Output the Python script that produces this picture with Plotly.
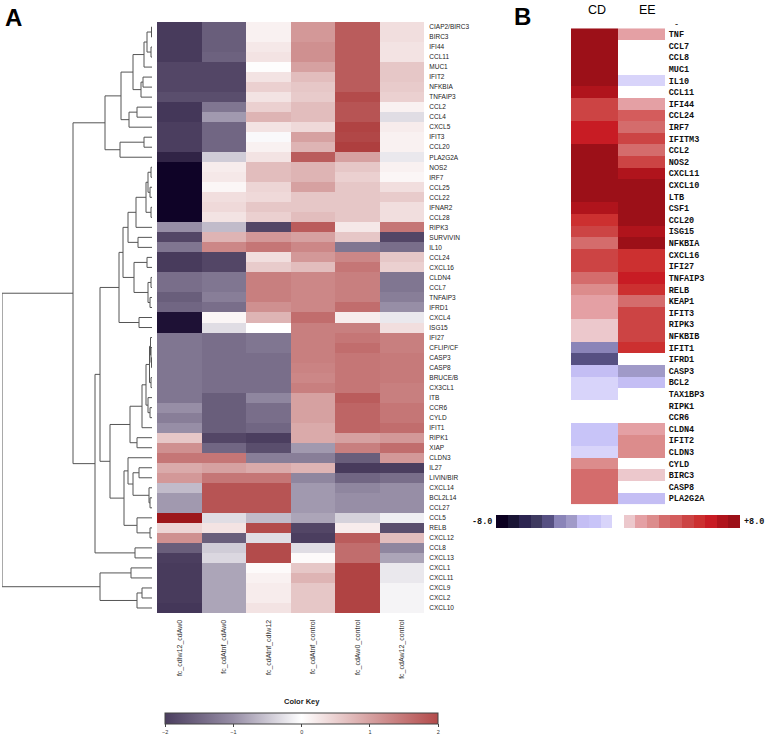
import plotly.graph_objects as go

W, H = 765, 739
def fx(px): return px / W
def fy(py): return 1 - py / H

# ---------------- Panel A data ----------------
a_rows = ["CIAP2/BIRC3", "BIRC3", "IFI44", "CCL11", "MUC1", "IFIT2", "NFKBIA", "TNFAIP3",
          "CCL2", "CCL4", "CXCL5", "IFIT3", "CCL20", "PLA2G2A", "NOS2", "IRF7", "CCL25",
          "CCL22", "IFNAR2", "CCL28", "RIPK3", "SURVIVIN", "IL10", "CCL24", "CXCL16",
          "CLDN4", "CCL7", "TNFAIP3", "IFRD1", "CXCL4", "ISG15", "IFI27", "CFLIP/CF",
          "CASP3", "CASP8", "BRUCE/B", "CX3CL1", "ITB", "CCR6", "CYLD", "IFIT1", "RIPK1",
          "XIAP", "CLDN3", "IL27", "LIVIN/BIR", "CXCL14", "BCL2L14", "CCL27", "CCL5",
          "RELB", "CXCL12", "CCL8", "CXCL13", "CXCL1", "CXCL11", "CXCL9", "CXCL2", "CXCL10"]
a_cols = ["fc_cdIw12_cdAw0", "fc_cdAtnf_cdAw0", "fc_cdAtnf_cdIw12",
          "fc_cdAtnf_control", "fc_cdAw0_control", "fc_cdAw12_control"]

fc_cdIw12_cdAw0 = [-2.1, -2.1, -2.1, -2.1, -1.9, -1.9, -1.9, -1.8, -2.2, -2.2, -2.0, -2.0, -2.0,
                   -2.8, -3.9, -3.9, -3.9, -3.9, -3.9, -3.9, -1.0, -1.9, -1.3, -2.1, -2.1,
                   -1.4, -1.4, -1.6, -1.5, -3.4, -3.4, -1.3, -1.3, -1.3, -1.3, -1.3, -1.3,
                   -1.3, -1.0, -1.2, -1.0, 0.6, 1.2, 1.5, 0.9, 1.1, -0.6, -0.9, -0.9,
                   3.5, 0.45, 1.2, -1.6, -2.0, -2.1, -2.1, -2.1, -2.1, -2.2]
fc_cdAtnf_cdAw0 = [-1.6, -1.6, -1.6, -1.55, -1.9, -1.9, -1.9, -1.8, -1.3, -0.9, -1.5, -1.5, -1.5,
                   -0.45, 0.2, 0.25, 0.1, 0.35, 0.4, 0.3, -0.6, 0.8, 1.3, -1.9, -1.9,
                   -1.3, -1.3, -1.2, -1.4, 0.1, -0.3, -1.4, -1.4, -1.4, -1.4, -1.4, -1.4,
                   -1.6, -1.6, -1.6, -1.6, -1.9, -1.5, 1.5, 1.0, 1.5, 1.9, 1.9, 1.9,
                   -0.3, 0.3, -1.6, -0.45, -0.35, -0.8, -0.8, -0.8, -0.8, -0.8]
fc_cdAtnf_cdIw12 = [0.15, 0.15, 0.25, 0.3, 0.02, 0.3, 0.5, 0.3, 0.5, 0.8, 0.3, -0.05, 0.15,
                    0.3, 0.7, 0.7, 0.45, 0.4, 0.6, 0.5, -1.9, 1.1, 1.5, 0.35, 0.55,
                    1.4, 1.4, 1.4, 1.2, 0.8, 0.0, -1.3, -1.3, -1.4, -1.4, -1.4, -1.4,
                    -1.1, -1.4, -1.4, -1.5, -2.0, -1.8, -1.2, 0.9, 1.5, 1.9, 1.9, 1.9,
                    -0.6, 2.0, -0.3, 2.0, 2.0, 0.05, 0.15, 0.2, 0.2, 0.3]
fc_cdAtnf_control = [1.1, 1.1, 1.2, 1.2, 1.0, 0.7, 0.6, 0.55, 0.7, 0.7, 0.4, 1.0, 0.8,
                     1.8, 0.8, 0.8, 1.0, 0.6, 0.6, 0.7, 1.8, 1.0, 1.3, 1.1, 0.7,
                     1.3, 1.3, 1.3, 1.3, 1.6, 1.4, 1.4, 1.4, 1.4, 1.35, 1.3, 1.4,
                     1.0, 1.0, 1.0, 0.9, 0.9, -0.9, -1.2, 0.8, -1.1, -0.9, -0.9, -0.9,
                     -0.8, -1.9, -2.0, -0.3, 0.05, 0.6, 0.8, 0.6, 0.6, 0.6]
fc_cdAw0_control = [1.8, 1.8, 1.8, 1.8, 1.8, 1.8, 1.8, 2.0, 1.9, 1.9, 2.2, 2.1, 2.3,
                    1.0, 0.6, 0.5, 0.6, 0.6, 0.6, 0.6, 0.25, 0.6, -1.3, 1.3, 1.5,
                    1.4, 1.4, 1.4, 1.6, 0.2, 1.4, 1.5, 1.6, 1.5, 1.5, 1.5, 1.5,
                    1.8, 1.7, 1.7, 1.7, 1.0, 1.4, -1.6, -2.1, -1.5, -1.1, -1.0, -1.0,
                    -0.4, 0.2, 1.8, 1.6, 1.6, 2.2, 2.2, 2.2, 2.2, 2.2]
fc_cdAw12_control = [0.35, 0.35, 0.3, 0.3, 0.6, 0.6, 0.55, 0.5, 0.15, -0.3, 0.2, 0.15, 0.15,
                     -0.2, 0.15, 0.1, 0.35, 0.55, 0.35, 0.35, 1.5, -1.9, -1.4, 0.6, 0.5,
                     -1.3, -1.3, -1.2, -1.0, -0.2, 0.35, 1.4, 1.4, 1.45, 1.45, 1.45, 1.4,
                     1.4, 1.5, 1.5, 1.6, 1.1, 1.6, 1.1, -2.0, -1.4, -1.0, -1.0, -1.0,
                     -0.15, -1.8, 0.7, -1.1, -0.8, -0.2, -0.2, -0.1, -0.1, -0.1]

# row dendrogram merges: (child, child, height); ids >= 59 refer to earlier merges
dendro_merges = [
    (0, 1, 0.5), (2, 3, 1), (59, 60, 5), (61, 4, 8), (5, 6, 9), (63, 7, 11), (62, 64, 19),
    (8, 9, 15), (66, 10, 23), (65, 67, 31), (11, 12, 8), (69, 13, 32), (68, 70, 47),
    (14, 15, 1), (16, 17, 2), (72, 73, 4), (18, 19, 1), (74, 75, 6), (76, 20, 16),
    (21, 22, 14), (77, 78, 24), (23, 24, 5), (25, 26, 1), (27, 28, 2), (81, 82, 4),
    (80, 83, 18), (79, 84, 29), (29, 30, 13), (85, 86, 33), (33, 34, 0.5), (32, 88, 1),
    (31, 89, 1.5), (35, 36, 1), (90, 91, 2.5), (38, 39, 2), (37, 93, 4), (92, 94, 6),
    (95, 40, 10), (41, 42, 15), (96, 97, 22), (44, 45, 13), (47, 48, 2), (46, 100, 3),
    (99, 101, 19), (43, 102, 24), (50, 51, 2), (49, 104, 15), (103, 105, 28),
    (98, 106, 42), (87, 107, 52), (52, 53, 17), (108, 109, 57), (71, 110, 79),
    (54, 55, 21), (56, 57, 10), (113, 58, 15), (112, 114, 52), (111, 115, 150)]

# ---------------- Panel B data ----------------
b_rows = ["TNF", "CCL7", "CCL8", "MUC1", "IL10", "CCL11", "IFI44", "CCL24", "IRF7", "IFITM3",
          "CCL2", "NOS2", "CXCL11", "CXCL10", "LTB", "CSF1", "CCL20", "ISG15", "NFKBIA",
          "CXCL16", "IFI27", "TNFAIP3", "RELB", "KEAP1", "IFIT3", "RIPK3", "NFKBIB", "IFIT1",
          "IFRD1", "CASP3", "BCL2", "TAX1BP3", "RIPK1", "CCR6", "CLDN4", "IFIT2", "CLDN3",
          "CYLD", "BIRC3", "CASP8", "PLA2G2A"]
b_cd = [7.6, 7.6, 7.6, 7.6, 7.6, 6.8, 4.4, 4.4, 6.0, 6.0, 7.6, 7.6, 7.6, 7.6, 7.6, 6.8, 5.2,
        4.4, 2.8, 4.4, 4.4, 2.8, 2.0, 1.2, 1.2, 0.4, 0.4, -3.6, -4.4, -2.0, -0.4, -0.4,
        None, None, -1.2, -1.2, -0.4, 2.0, 2.8, 2.8, 2.8]
b_ee = [1.2, None, None, None, -0.4, None, 1.2, 3.6, 2.8, 4.4, 2.8, 4.4, 6.8, 7.6, 7.6, 7.6,
        7.6, 6.8, 7.6, 5.2, 5.2, 6.0, 5.2, 2.8, 4.4, 4.4, 4.4, 5.2, None, -2.8, -2.0, None,
        None, None, 1.2, 2.0, 2.0, None, 0.4, None, -2.0]
b_key = [-7.6, -6.8, -6.0, -5.2, -4.4, -3.6, -2.8, -2.0, -1.2, -0.4, None,
         0.4, 1.2, 2.0, 2.8, 3.6, 4.4, 5.2, 6.0, 6.8, 7.6]

# ---------------- styles ----------------
a_scale = [[0.0, '#0c0024'], [0.125, '#2a1d40'], [0.25, '#4b3e5f'], [0.375, '#978ea6'],
           [0.5, '#ffffff'], [0.625, '#d6a1a1'], [0.75, '#b34b4b'], [0.875, '#a32222'],
           [1.0, '#960c14']]
key_scale = [[0.0, '#4b3e5f'], [0.25, '#978ea6'], [0.5, '#ffffff'], [0.75, '#d6a1a1'],
             [1.0, '#b34b4b']]
blue_bins = ['#0b0020', '#1a1535', '#2c2550', '#3e3a60', '#565082', '#8a84b8', '#a09ac8',
             '#c4bef4', '#c8c4f8', '#d8d4fa']
red_bins = ['#ecc8cc', '#e4a0a4', '#dc8c8c', '#d46c6c', '#d45c5c', '#cc4444', '#cc3030',
            '#c81c24', '#b0141c', '#9c1018']
bins = blue_bins + red_bins
b_scale = []
for k, c in enumerate(bins):
    b_scale.append([k / 20, c])
    b_scale.append([(k + 1) / 20, c])

SANS = "Liberation Sans, Arial, sans-serif"
MONO = "Liberation Mono, Courier New, monospace"

fig = go.Figure()

# Panel A heatmap
a_z = [list(r) for r in zip(fc_cdIw12_cdAw0, fc_cdAtnf_cdAw0, fc_cdAtnf_cdIw12,
                            fc_cdAtnf_control, fc_cdAw0_control, fc_cdAw12_control)]
fig.add_trace(go.Heatmap(z=a_z, x=list(range(len(a_cols))), y=list(range(len(a_rows))),
                         zmin=-4, zmax=4, colorscale=a_scale, showscale=False,
                         xaxis='x', yaxis='y', hoverinfo='skip'))

# colour key for panel A
fig.add_trace(go.Scatter(x=[None], y=[None], mode='markers', showlegend=False,
                         xaxis='x', yaxis='y',
                         marker=dict(color=[0], cmin=-2, cmax=2, colorscale=key_scale,
                                     showscale=True,
                                     colorbar=dict(orientation='h', x=fx(301.7), xanchor='center',
                                                   y=fy(712.7), yanchor='top', len=273,
                                                   lenmode='pixels', thickness=11,
                                                   thicknessmode='pixels', xpad=0, ypad=0,
                                                   outlinewidth=1, outlinecolor='#444',
                                                   tickvals=[-2, -1, 0, 1, 2], ticks='outside',
                                                   ticklen=3, tickcolor='#444',
                                                   tickfont=dict(size=5.5, family=SANS, color='#333')))))

# dendrogram
n = len(a_rows)
pos = {i: float(i) for i in range(n)}
hgt = {i: 0.0 for i in range(n)}
dx, dy = [], []
for k, (l, r, h) in enumerate(dendro_merges):
    yl, yr = pos[l], pos[r]
    dx += [hgt[l], h, h, hgt[r], None]
    dy += [yl, yl, yr, yr, None]
    pos[n + k] = (yl + yr) / 2
    hgt[n + k] = h
fig.add_trace(go.Scatter(x=dx, y=dy, mode='lines', line=dict(color='#555555', width=1),
                         xaxis='x2', yaxis='y2', showlegend=False, hoverinfo='skip',
                         cliponaxis=False))

# Panel B heatmap
b_z = [list(r) for r in zip(b_cd, b_ee)]
fig.add_trace(go.Heatmap(z=b_z, x=[0, 1], y=list(range(len(b_rows))), zmin=-8, zmax=8,
                         colorscale=b_scale, showscale=False, xaxis='x3', yaxis='y3',
                         hoverinfo='skip'))
# Panel B key
fig.add_trace(go.Heatmap(z=[b_key], x=list(range(len(b_key))), y=[0], zmin=-8, zmax=8,
                         colorscale=b_scale, showscale=False, xaxis='x4', yaxis='y4',
                         hoverinfo='skip'))

noax = dict(showgrid=False, zeroline=False, showline=False, showticklabels=False, ticks='')
fig.update_layout(
    width=W, height=H, margin=dict(l=0, r=0, t=0, b=0, autoexpand=False),
    paper_bgcolor='white', plot_bgcolor='white', showlegend=False,
    xaxis=dict(domain=[fx(157), fx(424)], range=[-0.5, 5.5], tickvals=list(range(6)),
               ticktext=a_cols, tickangle=-90, ticks='outside', ticklen=3,
               tickcolor='rgba(0,0,0,0)', showgrid=False, zeroline=False, showline=False,
               automargin=False,
               tickfont=dict(family=SANS, size=7, color='#333')),
    yaxis=dict(domain=[fy(613), fy(22)], range=[n - 0.5, -0.5], side='right',
               tickvals=list(range(n)), ticktext=a_rows, ticks='outside', ticklen=3,
               tickcolor='rgba(0,0,0,0)', showgrid=False, zeroline=False, showline=False,
               automargin=False,
               tickfont=dict(family=SANS, size=6.5, color='#222')),
    xaxis2=dict(domain=[fx(2), fx(152)], range=[150, 0], anchor='y2', **noax),
    yaxis2=dict(domain=[fy(613), fy(22)], range=[n - 0.5, -0.5], anchor='x2', **noax),
    xaxis3=dict(domain=[fx(571), fx(665)], range=[-0.5, 1.5], anchor='y3', **noax),
    yaxis3=dict(domain=[fy(504.3), fy(28.3)], range=[len(b_rows) - 0.5, -0.5], anchor='x3',
                side='right', tickvals=list(range(len(b_rows))), ticktext=b_rows,
                ticks='outside', ticklen=1, tickcolor='rgba(0,0,0,0)', showgrid=False,
                zeroline=False, showline=False, automargin=False,
                tickfont=dict(family=MONO, size=8.5, color='#111', weight='bold')),
    xaxis4=dict(domain=[fx(496), fx(740)], range=[-0.5, 20.5], anchor='y4', **noax),
    yaxis4=dict(domain=[fy(528), fy(515)], range=[-0.5, 0.5], anchor='x4', **noax),
)

ann = [
    dict(text="<b>A</b>", x=fx(13.5), y=fy(18), font=dict(family=SANS, size=24, color='black')),
    dict(text="<b>B</b>", x=fx(522), y=fy(17), font=dict(family=SANS, size=24, color='black')),
    dict(text="CD", x=fx(597), y=fy(10), font=dict(family=SANS, size=12.5, color='black')),
    dict(text="EE", x=fx(647), y=fy(10), font=dict(family=SANS, size=12.5, color='black')),
    dict(text="-", x=fx(676), y=fy(25), font=dict(family=MONO, size=8.5, color='black')),
    dict(text="<b>Color Key</b>", x=fx(301.7), y=fy(701.7),
         font=dict(family=SANS, size=7.5, color='#222')),
    dict(text="<b>-8.0</b>", x=fx(494), y=fy(521.5), xanchor='right',
         font=dict(family=MONO, size=8.5, color='#111')),
    dict(text="<b>+8.0</b>", x=fx(742), y=fy(521.5), xanchor='left',
         font=dict(family=MONO, size=8.5, color='#111')),
]
for a in ann:
    a.setdefault('xanchor', 'center')
    fig.add_annotation(xref='paper', yref='paper', yanchor='middle', showarrow=False, **a)

fig.write_html("out.html", config={'displayModeBar': False},
               post_script="document.body.style.margin='0';document.body.style.padding='0';")
